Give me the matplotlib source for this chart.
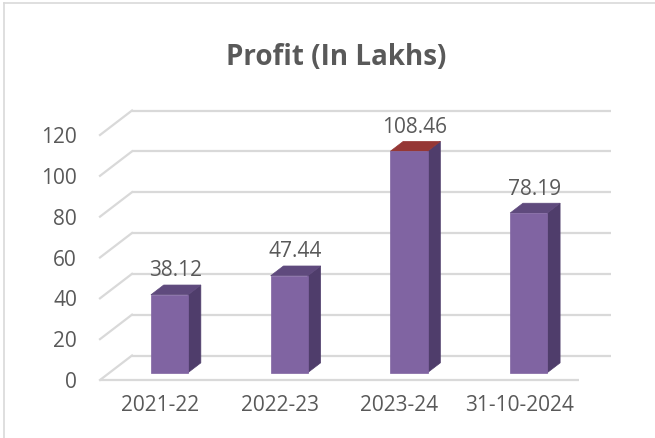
import matplotlib
matplotlib.use("Agg")
import matplotlib.pyplot as plt
from matplotlib.patches import Polygon
from matplotlib.lines import Line2D

categories = ["2021-22", "2022-23", "2023-24", "31-10-2024"]
profits = [38.12, 47.44, 108.46, 78.19]
y_ticks = [0, 20, 40, 60, 80, 100, 120]
title = "Profit (In Lakhs)"

plt.rcParams['font.family'] = ['Open Sans', 'DejaVu Sans']
TXT = "#595959"
GRID = "#D9D9D9"
FRONT = "#8064A2"
SIDE = "#4F3D6B"
TOP = "#5F4A7D"
TOP_RED = "#953735"

W, H = 655, 438
fig = plt.figure(figsize=(W / 100, H / 100), dpi=100)

PX_PER_UNIT = 245 / 120.0
YTOP = 134
ax = fig.add_axes([100 / W, 58 / H, 511 / W, YTOP * PX_PER_UNIT / H])
ax.set_xlim(-0.5, 3.5 + 32 / 119.75)
ax.set_ylim(0, YTOP)
for s in ax.spines.values():
    s.set_visible(False)
ax.patch.set_visible(False)

DX = 32 / 119.75
DY = 24.5 / PX_PER_UNIT

def P(x, v, d):
    return (x + d * DX, v + d * DY)

# back wall gridlines + left wall slants
for v in y_ticks:
    ax.plot([P(-0.5, v, 1)[0], P(3.5, v, 1)[0]], [P(-0.5, v, 1)[1]] * 2,
            color=GRID, lw=1.6, solid_capstyle='butt', zorder=1, clip_on=False)
    ax.plot([P(-0.5, v, 0)[0], P(-0.5, v, 1)[0]], [P(-0.5, v, 0)[1], P(-0.5, v, 1)[1]],
            color=GRID, lw=1.6, zorder=1, clip_on=False)
# floor front edge
ax.plot([-0.5, 3.5], [0, 0], color=GRID, lw=1.6, solid_capstyle='butt', zorder=1, clip_on=False)

hw = 0.155
d0, d1 = 0.3, 0.7
for i, v in enumerate(profits):
    front = [P(i - hw, 0, d0), P(i + hw, 0, d0), P(i + hw, v, d0), P(i - hw, v, d0)]
    side = [P(i + hw, 0, d0), P(i + hw, 0, d1), P(i + hw, v, d1), P(i + hw, v, d0)]
    top = [P(i - hw, v, d0), P(i + hw, v, d0), P(i + hw, v, d1), P(i - hw, v, d1)]
    topc = TOP_RED if i == 2 else TOP
    ax.add_patch(Polygon(side, closed=True, fc=SIDE, ec=SIDE, lw=0.5, zorder=3))
    ax.add_patch(Polygon(top, closed=True, fc=topc, ec=topc, lw=0.5, zorder=3))
    ax.add_patch(Polygon(front, closed=True, fc=FRONT, ec=FRONT, lw=0.5, zorder=4))
    ax.annotate(f"{v:.2f}", xy=P(i, v, d0), xytext=(6, 24), textcoords='offset pixels',
                ha='center', va='center', fontsize=15, color=TXT, zorder=5)

ax.set_yticks(y_ticks)
ax.set_yticklabels([str(t) for t in y_ticks])
ax.set_xticks(range(len(categories)))
ax.set_xticklabels(categories)
ax.tick_params(axis='y', length=0, pad=16.5, labelsize=15, labelcolor=TXT)
ax.tick_params(axis='x', length=0, pad=11, labelsize=15, labelcolor=TXT)

fig.text(336 / W, 1 - 65 / H, title, ha='center', va='baseline',
         fontsize=20, fontweight='bold', color=TXT)

# chart border (left and top visible)
fig.add_artist(Line2D([4 / W, 4 / W], [0, 1 - 3 / H], color=GRID, lw=1.2))
fig.add_artist(Line2D([4 / W, 1], [1 - 3 / H, 1 - 3 / H], color=GRID, lw=1.2))

fig.savefig("out.png", dpi=100)
